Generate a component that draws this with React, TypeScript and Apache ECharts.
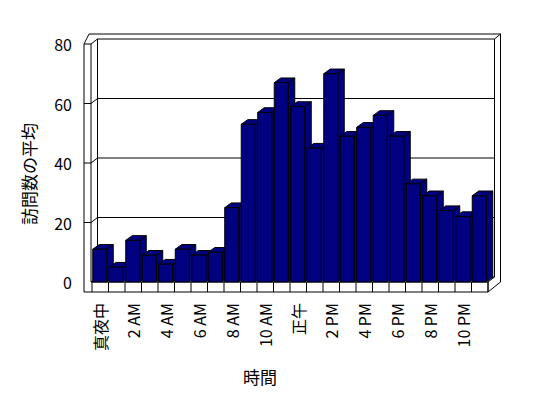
import React, { useEffect, useRef } from "react";
import * as echarts from "echarts";

const hourLabels: string[] = [
  "真夜中", "1 AM", "2 AM", "3 AM", "4 AM", "5 AM", "6 AM", "7 AM", "8 AM", "9 AM", "10 AM", "11 AM",
  "正午", "1 PM", "2 PM", "3 PM", "4 PM", "5 PM", "6 PM", "7 PM", "8 PM", "9 PM", "10 PM", "11 PM",
];
const avgVisits: number[] = [11, 5, 14, 9, 6, 11, 9, 10, 25, 53, 57, 67, 59, 45, 70, 49, 52, 56, 49, 33, 29, 24, 22, 29];
const yTicks: number[] = [0, 20, 40, 60, 80];
const yTitle = "訪問数の平均";
const xTitle = "時間";

const FONT = "'Noto Sans CJK JP', 'Noto Sans', sans-serif";
const BAR = "#000080";
const LINE = "#000000";

export default function App() {
  const ref = useRef<HTMLDivElement>(null);
  useEffect(() => {
    if (!ref.current) return;
    const chart = echarts.init(ref.current, null, { renderer: "svg" });
    const DX = 6.5, DY = -5;      // wall depth offset
    const BDX = 6.5, BDY = -4.7;  // bar depth offset
    const lineStyle = { stroke: LINE, lineWidth: 1, fill: "none" };

    const wallItem = (params: any, api: any) => {
      const cs = params.coordSys;
      const x0 = cs.x, x1 = cs.x + cs.width;
      const yTop = api.coord([0, yTicks[yTicks.length - 1]])[1];
      const yBot = api.coord([0, yTicks[0]])[1];
      const w = api.size([1, 0])[0];
      const inner = x0 - 1, outer = x0 - 8, floorH = 10;
      const children: any[] = [];
      // outer silhouette (filled white)
      children.push({
        type: "polygon",
        shape: { points: [[outer, yTop], [outer + 5, yTop - 10], [x1 + 12.5, yTop - 10], [x1 + 12.5, yBot], [x1, yBot + floorH], [outer, yBot + floorH]] },
        style: { fill: "#fff", stroke: LINE, lineWidth: 1 },
      });
      // left wall front face + floor front face
      children.push({
        type: "polyline",
        shape: { points: [[outer, yTop], [inner, yTop], [inner, yBot], [x1, yBot], [x1, yBot + floorH]] },
        style: lineStyle,
      });
      // inner edges: left wall inner face, back wall, floor junction
      children.push({
        type: "polyline",
        shape: { points: [[inner, yTop], [inner + DX, yTop + DY], [x1 + DX, yTop + DY], [x1 + DX, yBot + DY], [x1, yBot]] },
        style: lineStyle,
      });
      children.push({
        type: "polyline",
        shape: { points: [[x1 + DX, yTop + DY], [x1 + 12.5, yTop - 10]] },
        style: lineStyle,
      });
      children.push({
        type: "polyline",
        shape: { points: [[inner, yBot], [inner + DX, yBot + DY], [x1 + DX, yBot + DY]] },
        style: lineStyle,
      });
      children.push({
        type: "polyline",
        shape: { points: [[inner + DX, yTop + DY], [inner + DX, yBot + DY]] },
        style: lineStyle,
      });
      // gridlines
      yTicks.slice(1, -1).forEach((v) => {
        const y = api.coord([0, v])[1];
        children.push({
          type: "polyline",
          shape: { points: [[outer, y], [inner, y], [inner + DX, y + DY], [x1 + DX, y + DY]] },
          style: lineStyle,
        });
      });
      // floor ticks
      for (let k = 0; k <= hourLabels.length; k++) {
        const x = x0 + k * w;
        children.push({
          type: "line",
          shape: { x1: x, y1: yBot, x2: x, y2: yBot + floorH },
          style: { stroke: LINE, lineWidth: 1 },
        });
      }
      return { type: "group", children };
    };

    const barItem = (params: any, api: any) => {
      const idx = api.value(0);
      const val = api.value(1);
      const top = api.coord([idx, val]);
      const base = api.coord([idx, 0]);
      const w = api.size([1, 0])[0];
      const bw = w * 0.85;
      const l = top[0] - bw / 2 - 0.5;
      const r = l + bw;
      const st = { fill: BAR, stroke: LINE, lineWidth: 1 };
      return {
        type: "group",
        children: [
          { type: "polygon", shape: { points: [[r, top[1]], [r + BDX, top[1] + BDY], [r + BDX, base[1] + BDY], [r, base[1]]] }, style: st },
          { type: "polygon", shape: { points: [[l, top[1]], [l + BDX, top[1] + BDY], [r + BDX, top[1] + BDY], [r, top[1]]] }, style: st },
          { type: "rect", shape: { x: l, y: top[1], width: bw, height: base[1] - top[1] }, style: st },
        ],
      };
    };

    chart.setOption({
      animation: false,
      backgroundColor: "#ffffff",
      textStyle: { fontFamily: FONT },
      grid: { left: 92, right: 60, top: 44, bottom: 116, containLabel: false },
      xAxis: {
        type: "category",
        data: hourLabels,
        axisLine: { show: false },
        axisTick: { show: false },
        axisLabel: { interval: 1, rotate: 90, margin: 21, color: "#000", fontSize: 16, fontFamily: FONT },
      },
      yAxis: {
        type: "value",
        min: 0,
        max: 80,
        interval: 20,
        axisLine: { show: false },
        axisTick: { show: false },
        splitLine: { show: false },
        axisLabel: { margin: 20, color: "#000", fontSize: 16, fontFamily: FONT },
      },
      graphic: [
        {
          type: "text",
          x: 28,
          y: 174,
          rotation: Math.PI / 2,
          style: { text: yTitle, fontSize: 17, fontFamily: FONT, fill: "#000", textAlign: "center", textVerticalAlign: "middle" },
        },
        {
          type: "text",
          x: 260,
          y: 376,
          style: { text: xTitle, fontSize: 17, fontFamily: FONT, fill: "#000", textAlign: "center", textVerticalAlign: "middle" },
        },
      ],
      series: [
        { type: "custom", renderItem: wallItem, data: [[0, 0]], z: 1, silent: true, clip: false },
        {
          type: "custom",
          renderItem: barItem,
          data: avgVisits.map((v, i) => [i, v]),
          encode: { x: 0, y: 1 },
          z: 2,
          silent: true,
          clip: false,
        },
      ],
    });
    return () => chart.dispose();
  }, []);
  return <div ref={ref} style={{ position: "fixed", left: 0, top: 0, width: 548, height: 398 }} />;
}
